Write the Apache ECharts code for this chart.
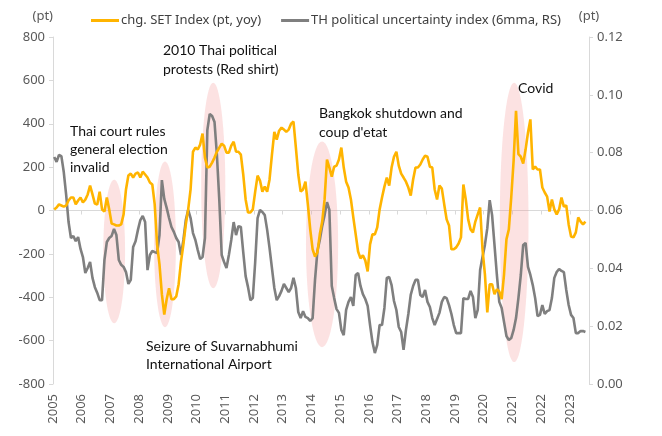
<!DOCTYPE html>
<html><head><meta charset="utf-8">
<script src="https://cdn.jsdelivr.net/npm/echarts@6/dist/echarts.min.js"></script>
<style>html,body{margin:0;padding:0;background:#fff}#c{width:662px;height:436px}</style>
</head><body><div id="c"></div>
<script>
// ---- data ----
const startYear = 2005;
const yearTicks = [2005,2006,2007,2008,2009,2010,2011,2012,2013,2014,2015,2016,2017,2018,2019,2020,2021,2022,2023];
const leftTicks = [-800,-600,-400,-200,0,200,400,600,800];
const rightTicks = [0,0.02,0.04,0.06,0.08,0.10,0.12];

// chg. SET Index (pt, yoy), monthly from Jan 2005
const setChg = [
 5,14,28,23,18,23,46,60,60,28,46,60,
 37,50,74,115,74,32,28,87,5,-5,60,5,
 -60,-64,-69,-69,-64,-18,97,161,170,152,170,175,
 152,179,166,152,129,120,28,-156,-248,-386,-480,-409,
 -359,-409,-409,-396,-340,-235,-156,-64,5,97,271,290,
 281,304,355,244,198,202,221,244,271,290,308,299,
 267,267,299,317,271,271,258,166,51,-9,-9,5,
 87,161,138,87,110,87,143,258,363,327,368,382,
 373,363,373,400,410,290,166,87,97,133,28,-87,
 -179,-212,-193,-110,-51,51,235,198,156,202,207,235,
 290,198,133,106,51,-32,-110,-189,-221,-207,-230,-281,
 -156,-110,-110,-78,5,60,110,152,115,198,248,271,
 207,170,152,133,106,69,143,198,198,212,235,253,
 248,202,198,97,51,115,101,28,-41,-69,-179,-179,
 -170,-152,-124,120,51,-41,-87,-101,-51,-18,14,-179,
 -294,-470,-340,-340,-386,-363,-373,-409,-294,-133,-87,60,
 230,460,260,248,216,281,359,420,189,202,189,189,
 106,83,64,-5,51,5,-18,5,60,18,23,-64,
 -120,-124,-101,-32,-51,-64,-51
];
// TH political uncertainty index (6mma, RS), monthly from Jan 2005
const polUnc = [
 0.0785,0.0768,0.0792,0.0788,0.0733,0.0654,0.0560,0.0505,0.0512,0.0494,0.0508,0.0467,
 0.0439,0.0384,0.0401,0.0422,0.0367,0.0335,0.0315,0.0290,0.0290,0.0429,0.0491,0.0505,
 0.0512,0.0536,0.0515,0.0429,0.0412,0.0405,0.0387,0.0346,0.0360,0.0474,0.0494,0.0533,
 0.0567,0.0581,0.0560,0.0394,0.0446,0.0460,0.0456,0.0453,0.0515,0.0705,0.0640,0.0609,
 0.0574,0.0543,0.0526,0.0505,0.0491,0.0446,0.0498,0.0567,0.0602,0.0574,0.0522,0.0498,
 0.0463,0.0432,0.0439,0.0505,0.0878,0.0934,0.0927,0.0906,0.0792,0.0636,0.0446,0.0422,
 0.0401,0.0446,0.0498,0.0560,0.0515,0.0546,0.0543,0.0456,0.0373,0.0335,0.0290,0.0297,
 0.0422,0.0574,0.0602,0.0595,0.0584,0.0533,0.0470,0.0401,0.0332,0.0290,0.0304,0.0322,
 0.0346,0.0332,0.0318,0.0332,0.0367,0.0332,0.0249,0.0228,0.0252,0.0232,0.0228,0.0218,
 0.0228,0.0360,0.0460,0.0498,0.0546,0.0584,0.0629,0.0602,0.0339,0.0297,0.0259,0.0246,
 0.0187,0.0169,0.0256,0.0284,0.0301,0.0270,0.0377,0.0384,0.0339,0.0311,0.0294,0.0270,
 0.0204,0.0145,0.0107,0.0135,0.0204,0.0204,0.0263,0.0367,0.0370,0.0342,0.0287,0.0256,
 0.0197,0.0180,0.0118,0.0187,0.0242,0.0308,0.0339,0.0360,0.0360,0.0308,0.0301,0.0325,
 0.0284,0.0266,0.0228,0.0204,0.0225,0.0246,0.0284,0.0301,0.0297,0.0273,0.0242,0.0204,
 0.0176,0.0176,0.0176,0.0297,0.0294,0.0294,0.0322,0.0301,0.0228,0.0256,0.0394,0.0439,
 0.0481,0.0539,0.0636,0.0584,0.0481,0.0377,0.0284,0.0263,0.0214,0.0166,0.0152,0.0159,
 0.0187,0.0228,0.0297,0.0377,0.0481,0.0488,0.0405,0.0377,0.0342,0.0297,0.0235,0.0239,
 0.0273,0.0242,0.0252,0.0256,0.0297,0.0367,0.0387,0.0398,0.0391,0.0387,0.0325,0.0273,
 0.0239,0.0228,0.0176,0.0176,0.0183,0.0183,0.0180
];
// highlighted events: centre (year, left-axis value), half width (years), half height (pt)
const eventYear   = [2007.13, 2008.90, 2010.58, 2014.37, 2021.06];
const eventValue  = [-189, -156, 115, -156, -55];
const eventHalfW  = [0.38, 0.38, 0.42, 0.56, 0.50];
const eventHalfH  = [331, 382, 474, 474, 644];

// months as categories
const months = setChg.map((_, i) => {
  const y = startYear + Math.floor(i / 12), m = (i % 12) + 1;
  return y + '-' + String(m).padStart(2, '0');
});
const monthPos = s => { const p = s.split('-').map(Number); return p[0] + (p[1] - 0.5) / 12; };
const xMax = startYear + 224 / 12;

const FONT = 'Noto Sans';
const axisGray = '#d9d9d9';
const labelGray = '#595959';

const chart = echarts.init(document.getElementById('c'), null, {renderer: 'canvas'});
chart.setOption({
  animation: false,
  backgroundColor: '#fff',
  textStyle: {fontFamily: FONT},
  grid: {left: 53, right: 73, top: 37, bottom: 52, containLabel: false},
  legend: {
    top: 9, left: 86, icon: 'rect', itemWidth: 28, itemHeight: 3, itemGap: 20,
    textStyle: {fontFamily: FONT, fontSize: 13, color: '#404040', padding: [0, 0, 0, -3]},
    data: ['chg. SET Index (pt, yoy)', 'TH political uncertainty index (6mma, RS)']
  },
  xAxis: [
    {
      type: 'value', min: startYear, max: xMax, position: 'bottom',
      axisLine: {show: false}, axisTick: {show: false}, splitLine: {show: false},
      axisLabel: {customValues: yearTicks, rotate: 90, margin: 10, fontSize: 13, color: labelGray, fontFamily: FONT,
        formatter: v => String(v)}
    },
    {
      type: 'value', min: startYear, max: xMax, position: 'bottom',
      axisLine: {show: true, onZero: true, onZeroAxisIndex: 0, lineStyle: {color: axisGray, width: 1}},
      axisTick: {show: true, customValues: yearTicks, length: 4, lineStyle: {color: axisGray}},
      axisLabel: {show: false}, splitLine: {show: false}
    }
  ],
  yAxis: [
    {
      type: 'value', min: -800, max: 800, interval: 200, position: 'left',
      name: '(pt)', nameLocation: 'end', nameGap: 14,
      nameTextStyle: {align: 'right', fontSize: 13, color: labelGray, fontFamily: FONT, padding: [0, 0, 0, 0]},
      axisLine: {show: true, onZero: false, lineStyle: {color: axisGray}},
      axisTick: {show: true, length: 4, lineStyle: {color: axisGray}},
      axisLabel: {fontSize: 13, color: labelGray, margin: 8, fontFamily: FONT},
      splitLine: {show: false}
    },
    {
      type: 'value', min: 0, max: 0.12, interval: 0.02, position: 'right',
      name: '(pt)', nameLocation: 'end', nameGap: 14,
      nameTextStyle: {align: 'center', fontSize: 13, color: labelGray, fontFamily: FONT},
      axisLine: {show: true, onZero: false, lineStyle: {color: axisGray}},
      axisTick: {show: true, length: 4, lineStyle: {color: axisGray}},
      axisLabel: {fontSize: 13, color: labelGray, margin: 8, fontFamily: FONT, formatter: v => v.toFixed(2)},
      splitLine: {show: false}
    }
  ],
  series: [
    {
      type: 'custom', name: 'events', silent: true, z: 1, xAxisIndex: 0, yAxisIndex: 0,
      data: eventYear.map((y, i) => [y, eventValue[i], eventHalfW[i], eventHalfH[i]]),
      renderItem: (params, api) => {
        const c = api.coord([api.value(0), api.value(1)]);
        const s = api.size([api.value(2), api.value(3)]);
        return {type: 'ellipse', shape: {cx: c[0], cy: c[1], rx: s[0], ry: s[1]},
          style: {fill: 'rgba(245,150,150,0.28)'}};
      }
    },
    {
      name: 'chg. SET Index (pt, yoy)', type: 'line', xAxisIndex: 0, yAxisIndex: 0, z: 3,
      showSymbol: false, color: '#FFB400', lineStyle: {width: 2.6, color: '#FFB400'},
      data: months.map((m, i) => [monthPos(m), setChg[i]])
    },
    {
      name: 'TH political uncertainty index (6mma, RS)', type: 'line', xAxisIndex: 0, yAxisIndex: 1, z: 2,
      showSymbol: false, color: '#7F7F7F', lineStyle: {width: 2.6, color: '#7F7F7F'},
      data: months.map((m, i) => [monthPos(m), polUnc[i]])
    }
  ],
  graphic: [
    {type: 'text', left: 70, top: 122, style: {text: 'Thai court rules\ngeneral election\ninvalid', font: '14px Lato', lineHeight: 18, fill: '#111'}},
    {type: 'text', left: 163, top: 41, style: {text: '2010 Thai political\nprotests (Red shirt)', font: '14px Lato', lineHeight: 19, fill: '#111'}},
    {type: 'text', left: 319, top: 104, style: {text: "Bangkok shutdown and\ncoup d'etat", font: '14px Lato', lineHeight: 19, fill: '#111'}},
    {type: 'text', left: 518, top: 79, style: {text: 'Covid', font: '14px Lato', lineHeight: 18, fill: '#111'}},
    {type: 'text', left: 146, top: 337, style: {text: 'Seizure of Suvarnabhumi\nInternational Airport', font: '14px Lato', lineHeight: 18, fill: '#111'}}
  ]
});
</script>
</body></html>
